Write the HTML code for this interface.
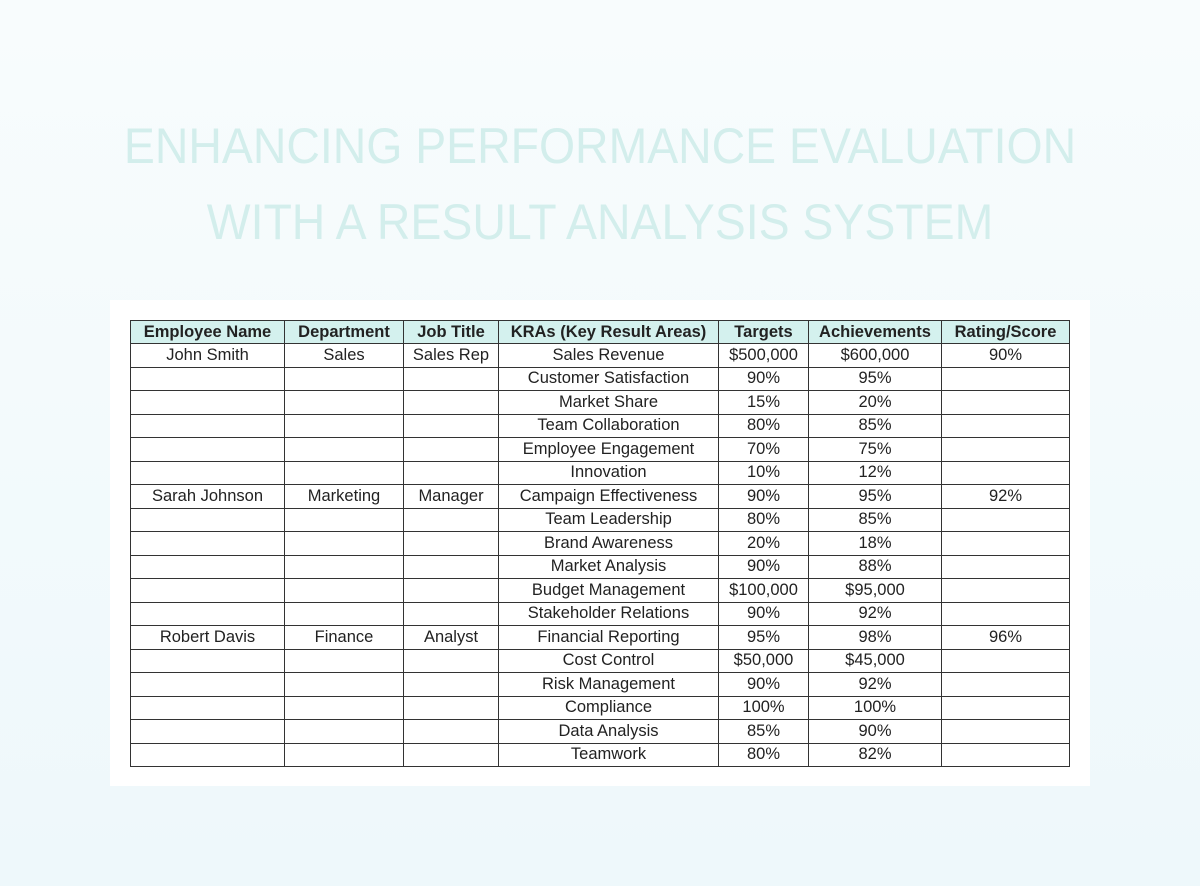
<!DOCTYPE html>
<html><head><meta charset="utf-8"><style>
html,body{margin:0;padding:0}
body{width:1200px;height:886px;background:linear-gradient(#f8fcfd,#eef8fb);font-family:"Liberation Sans","DejaVu Sans",sans-serif;position:relative;overflow:hidden}
.title{position:absolute;left:0;width:1200px;top:108px;text-align:center;color:#d3eeec;font-size:50px;line-height:76px;transform:scaleX(0.928);transform-origin:600px 0}
.card{position:absolute;left:110px;top:300px;width:980px;height:486px;background:#fff}
table{position:absolute;left:130px;top:320px;border-collapse:collapse;font-size:16.5px;color:#222}
td,th{border:1px solid #333;height:22.5px;padding:0;text-align:center;white-space:nowrap}
th{background:#d4f1ee;font-weight:bold;height:22px}
</style></head><body>
<div class="title">ENHANCING PERFORMANCE EVALUATION<br>WITH A RESULT ANALYSIS SYSTEM</div>
<div class="card"></div>
<table>
<colgroup><col style="width:154px"><col style="width:119px"><col style="width:95px"><col style="width:220px"><col style="width:90px"><col style="width:133px"><col style="width:128px"></colgroup>
<tr><th>Employee Name</th><th>Department</th><th>Job Title</th><th>KRAs (Key Result Areas)</th><th>Targets</th><th>Achievements</th><th>Rating/Score</th></tr>
<tr><td>John Smith</td><td>Sales</td><td>Sales Rep</td><td>Sales Revenue</td><td>$500,000</td><td>$600,000</td><td>90%</td></tr>
<tr><td></td><td></td><td></td><td>Customer Satisfaction</td><td>90%</td><td>95%</td><td></td></tr>
<tr><td></td><td></td><td></td><td>Market Share</td><td>15%</td><td>20%</td><td></td></tr>
<tr><td></td><td></td><td></td><td>Team Collaboration</td><td>80%</td><td>85%</td><td></td></tr>
<tr><td></td><td></td><td></td><td>Employee Engagement</td><td>70%</td><td>75%</td><td></td></tr>
<tr><td></td><td></td><td></td><td>Innovation</td><td>10%</td><td>12%</td><td></td></tr>
<tr><td>Sarah Johnson</td><td>Marketing</td><td>Manager</td><td>Campaign Effectiveness</td><td>90%</td><td>95%</td><td>92%</td></tr>
<tr><td></td><td></td><td></td><td>Team Leadership</td><td>80%</td><td>85%</td><td></td></tr>
<tr><td></td><td></td><td></td><td>Brand Awareness</td><td>20%</td><td>18%</td><td></td></tr>
<tr><td></td><td></td><td></td><td>Market Analysis</td><td>90%</td><td>88%</td><td></td></tr>
<tr><td></td><td></td><td></td><td>Budget Management</td><td>$100,000</td><td>$95,000</td><td></td></tr>
<tr><td></td><td></td><td></td><td>Stakeholder Relations</td><td>90%</td><td>92%</td><td></td></tr>
<tr><td>Robert Davis</td><td>Finance</td><td>Analyst</td><td>Financial Reporting</td><td>95%</td><td>98%</td><td>96%</td></tr>
<tr><td></td><td></td><td></td><td>Cost Control</td><td>$50,000</td><td>$45,000</td><td></td></tr>
<tr><td></td><td></td><td></td><td>Risk Management</td><td>90%</td><td>92%</td><td></td></tr>
<tr><td></td><td></td><td></td><td>Compliance</td><td>100%</td><td>100%</td><td></td></tr>
<tr><td></td><td></td><td></td><td>Data Analysis</td><td>85%</td><td>90%</td><td></td></tr>
<tr><td></td><td></td><td></td><td>Teamwork</td><td>80%</td><td>82%</td><td></td></tr>
</table>
</body></html>
